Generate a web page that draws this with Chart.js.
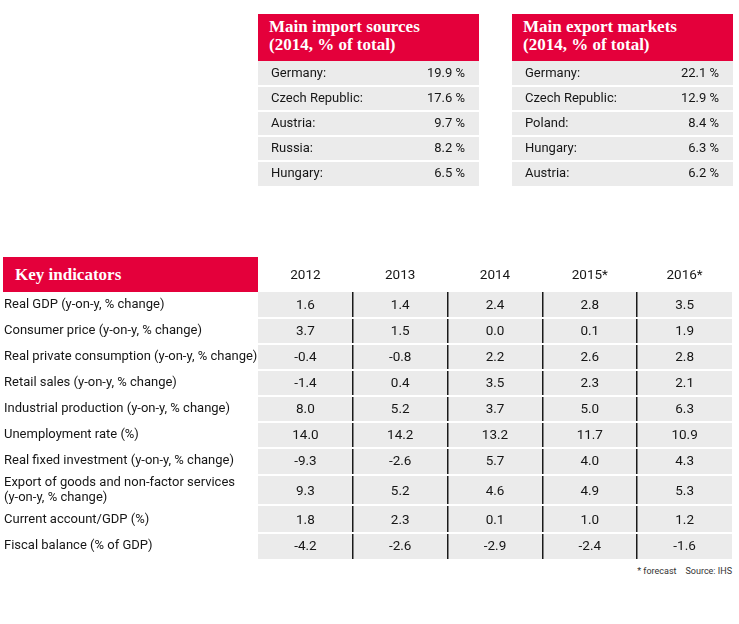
<!DOCTYPE html>
<html><head><meta charset="utf-8">
<script src="https://cdn.jsdelivr.net/npm/chart.js@4.4.1/dist/chart.umd.min.js"></script>
<style>
html,body{margin:0;padding:0;background:#fff}
body{width:739px;height:624px;position:relative;overflow:hidden;font-family:Roboto,"Noto Sans",sans-serif}
.hdr{position:absolute;background:#e4003b;color:#fff;font-family:"Liberation Serif",serif;font-weight:bold;font-size:17px}
.hdr span{position:absolute;white-space:nowrap}
canvas{position:absolute;display:block}
.note{position:absolute;right:7px;top:565px;font-size:9px;line-height:12px;color:#333;white-space:pre}
</style></head>
<body>
<div class="hdr" style="left:258px;top:14px;width:221px;height:47px"><span style="left:11px;top:4px;line-height:18px">Main import sources<br>(2014, % of total)</span></div>
<div class="hdr" style="left:512px;top:14px;width:221px;height:47px"><span style="left:11px;top:4px;line-height:18px">Main export markets<br>(2014, % of total)</span></div>
<canvas id="imp" width="221" height="125" style="left:258px;top:61px"></canvas>
<canvas id="exp" width="221" height="125" style="left:512px;top:61px"></canvas>
<div class="hdr" style="left:3px;top:257px;width:255px;height:35px"><span style="left:12px;top:0;line-height:35px">Key indicators</span></div>
<canvas id="key" width="739" height="305" style="left:0;top:257px"></canvas>
<div class="note">* forecast    Source: IHS</div>
<script>
// ---- data ----
const importCountries = ['Germany:', 'Czech Republic:', 'Austria:', 'Russia:', 'Hungary:'];
const importShares = [19.9, 17.6, 9.7, 8.2, 6.5];
const exportCountries = ['Germany:', 'Czech Republic:', 'Poland:', 'Hungary:', 'Austria:'];
const exportShares = [22.1, 12.9, 8.4, 6.3, 6.2];

const years = ['2012', '2013', '2014', '2015*', '2016*'];
const indicatorLabels = [
  'Real GDP (y-on-y, % change)',
  'Consumer price (y-on-y, % change)',
  'Real private consumption (y-on-y, % change)',
  'Retail sales (y-on-y, % change)',
  'Industrial production (y-on-y, % change)',
  'Unemployment rate (%)',
  'Real fixed investment (y-on-y, % change)',
  ['Export of goods and non-factor services', '(y-on-y, % change)'],
  'Current account/GDP (%)',
  'Fiscal balance (% of GDP)'
];
const realGDP = [1.6, 1.4, 2.4, 2.8, 3.5];
const consumerPrice = [3.7, 1.5, 0.0, 0.1, 1.9];
const privateConsumption = [-0.4, -0.8, 2.2, 2.6, 2.8];
const retailSales = [-1.4, 0.4, 3.5, 2.3, 2.1];
const industrialProduction = [8.0, 5.2, 3.7, 5.0, 6.3];
const unemploymentRate = [14.0, 14.2, 13.2, 11.7, 10.9];
const fixedInvestment = [-9.3, -2.6, 5.7, 4.0, 4.3];
const exportsGoodsServices = [9.3, 5.2, 4.6, 4.9, 5.3];
const currentAccount = [1.8, 2.3, 0.1, 1.0, 1.2];
const fiscalBalance = [-4.2, -2.6, -2.9, -2.4, -1.6];

// ---- styling ----
const SANS = 'Roboto';
const TXT = '#161616';
const CELL = '#ebebeb';
const CLEAR = 'rgba(0,0,0,0)';

const cellText = {
  id: 'cellText',
  beforeDraw(chart, args, o) {
    const a = chart.chartArea, ctx = chart.ctx;
    ctx.save(); ctx.fillStyle = o.fill; ctx.fillRect(a.left, a.top, a.right - a.left, a.bottom - a.top); ctx.restore();
  },
  afterDatasetsDraw(chart, args, o) {
    const ctx = chart.ctx;
    ctx.save();
    ctx.font = o.font; ctx.fillStyle = o.color; ctx.textAlign = o.align; ctx.textBaseline = 'middle';
    chart.data.datasets.forEach((ds, di) => {
      chart.getDatasetMeta(di).data.forEach((el, i) => {
        const raw = ds.data[i];
        const v = (typeof raw === 'object') ? raw.v : raw;
        const x = o.align === 'right' ? chart.chartArea.right - o.inset : el.x;
        ctx.fillText(v.toFixed(1) + o.suffix, x, el.y + o.dy);
      });
    });
    ctx.restore();
  }
};

function shareTable(id, labels, values) {
  new Chart(document.getElementById(id), {
    type: 'bar',
    data: { labels: labels, datasets: [{ data: values, backgroundColor: CLEAR, borderWidth: 0 }] },
    options: {
      indexAxis: 'y', responsive: false, animation: false, events: [],
      layout: { padding: 0 },
      plugins: {
        legend: { display: false }, tooltip: { enabled: false },
        cellText: { fill: CELL, font: '13px ' + SANS, color: TXT, align: 'right', inset: 14, suffix: ' %', dy: 0.5 }
      },
      scales: {
        x: { display: false, min: 0, max: 25 },
        y: {
          grid: { offset: true, lineWidth: 2, drawTicks: false,
                  color: c => (c.type !== 'tick' || c.index === 0) ? CLEAR : '#fff' },
          border: { display: false },
          ticks: { mirror: true, padding: 13, color: TXT, font: { family: SANS, size: 13 } },
          afterFit: s => { s.width = 0; s.paddingTop = 0; s.paddingBottom = 0; }
        }
      }
    },
    plugins: [cellText]
  });
}
shareTable('imp', importCountries, importShares);
shareTable('exp', exportCountries, exportShares);

const indicatorSeries = [realGDP, consumerPrice, privateConsumption, retailSales, industrialProduction,
  unemploymentRate, fixedInvestment, exportsGoodsServices, currentAccount, fiscalBalance];
const rowWeights = indicatorLabels.map(l => Array.isArray(l) ? 1.3 : 1);
const rowCenters = [];
let rowTotal = 0;
rowWeights.forEach(w => { rowCenters.push(rowTotal + w / 2); rowTotal += w; });

new Chart(document.getElementById('key'), {
  type: 'scatter',
  data: {
    datasets: years.map((yr, j) => ({
      label: yr,
      data: indicatorSeries.map((s, i) => ({ x: yr, y: rowCenters[i], v: s[j] })),
      pointRadius: 0, showLine: false
    }))
  },
  options: {
    responsive: false, animation: false, events: [],
    layout: { padding: { left: 4, right: 7, top: 0, bottom: 3 } },
    plugins: {
      legend: { display: false }, tooltip: { enabled: false },
      cellText: { fill: CELL, font: '13.5px ' + SANS, color: TXT, align: 'center', inset: 0, suffix: '', dy: 1 }
    },
    scales: {
      x: {
        type: 'category', labels: years, position: 'top', offset: true,
        grid: { offset: true, lineWidth: 1.5, drawTicks: false,
                color: c => (c.type !== 'tick' || c.index === 0) ? CLEAR : '#1a1a1a' },
        border: { display: false },
        ticks: { padding: 8, color: TXT, font: { family: SANS, size: 13.5 } },
        afterFit: s => { s.height = 35; s.paddingLeft = 0; s.paddingRight = 0; }
      },
      y: {
        type: 'linear', reverse: true, min: 0, max: rowTotal,
        afterBuildTicks: s => { s.ticks = rowCenters.map(v => ({ value: v })); },
        grid: { offset: true, lineWidth: 2, drawTicks: false,
                color: c => (c.type !== 'tick' || c.index === 0) ? CLEAR : '#fff' },
        border: { display: false },
        ticks: { autoSkip: false, crossAlign: 'far', padding: 0, color: TXT,
                 font: { family: SANS, size: 13, lineHeight: 1.22 },
                 callback: (v, i) => indicatorLabels[i] },
        afterFit: s => { s.width = 254; s.paddingTop = 0; s.paddingBottom = 0; }
      }
    }
  },
  plugins: [cellText]
});
</script>
</body></html>
